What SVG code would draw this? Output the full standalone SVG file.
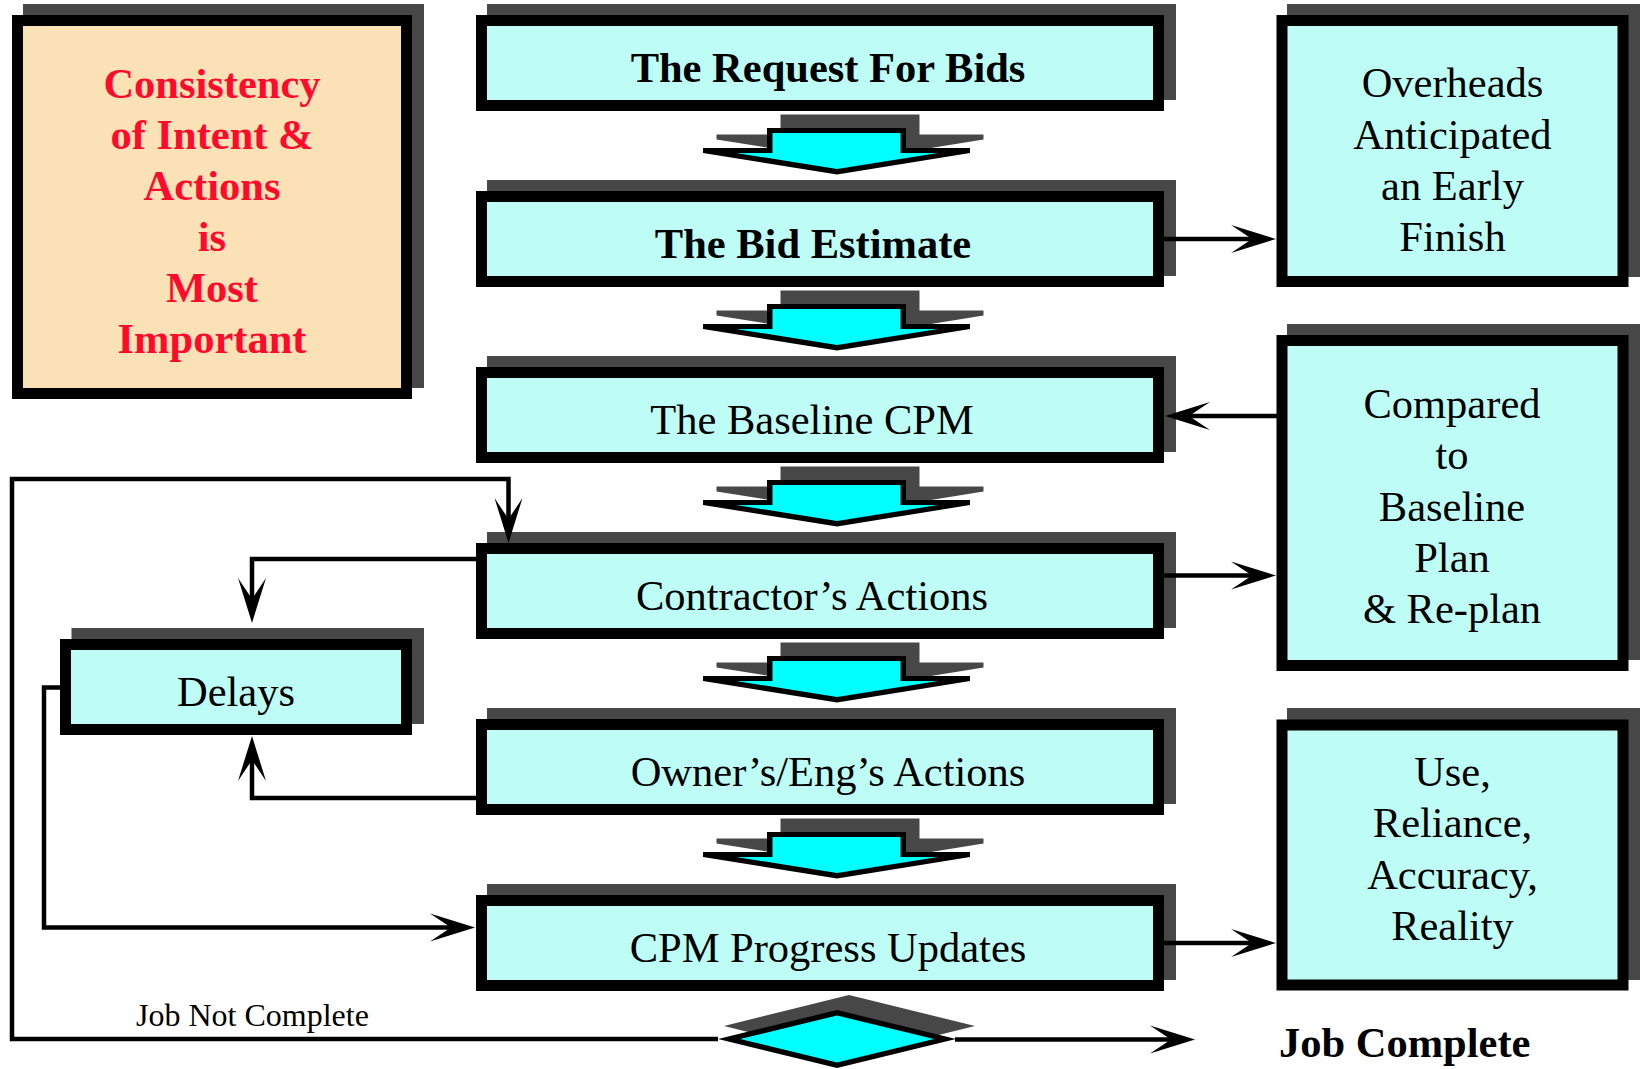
<svg xmlns="http://www.w3.org/2000/svg" xmlns:xlink="http://www.w3.org/1999/xlink" width="1641" height="1069" viewBox="0 0 1641 1069">
  <style>
    .shadow { fill: #474747; }
    .box { fill: #BEFDF5; stroke: #000; stroke-width: 11; }
    .note { fill: #FBE1B6; stroke: #000; stroke-width: 11; }
    .t { font-family: "Liberation Serif", "Times New Roman", serif; font-size: 42.5px; fill: #000; text-anchor: middle; }
    .b { font-weight: bold; }
    .red { fill: #FF0A2A; font-weight: bold; }
    .small { font-family: "Liberation Serif", "Times New Roman", serif; font-size: 32px; fill: #000; }
    .link { fill: none; stroke: #000; stroke-width: 4.5; stroke-linejoin: miter; marker-end: url(#head); }
  </style>
  <defs>
    <!-- swept-back arrowhead; tip sits 20px beyond the path end -->
    <marker id="head" markerUnits="userSpaceOnUse" orient="auto" viewBox="-26 -15 47 30" refX="0" refY="0" markerWidth="47" markerHeight="30" overflow="visible">
      <path d="M20,0 L-25,-14 L-4,0 L-25,14 Z" fill="#000"/>
    </marker>
    <!-- block arrow between steps, with drop shadow -->
    <g id="stepArrow">
      <path class="shadow" d="M780.5,114.5 H919.5 V134.5 H983.5 V139.5 L850.5,161 L716.5,139.5 V134.5 H780.5 Z"/>
      <path fill="#000" d="M767,128 H906 V148 H970 V153 L837,174.5 L703,153 V148 H767 Z"/>
      <path fill="#00FFFF" d="M772.5,133 H900.5 V153 H938 L837,169 L736,153 H772.5 Z"/>
    </g>
  </defs>

  <!-- step arrows -->
  <g id="step-arrows">
    <use xlink:href="#stepArrow"/>
    <use xlink:href="#stepArrow" transform="translate(0,176)"/>
    <use xlink:href="#stepArrow" transform="translate(0,352)"/>
    <use xlink:href="#stepArrow" transform="translate(0,528)"/>
    <use xlink:href="#stepArrow" transform="translate(0,704)"/>
  </g>

  <!-- left note -->
  <g id="note-consistency">
    <rect class="shadow" x="23" y="4" width="401" height="384"/>
    <rect class="note" x="17.5" y="20.5" width="389" height="373"/>
    <text class="t red" x="212" y="98">Consistency</text>
    <text class="t red" x="212" y="149">of Intent &amp;</text>
    <text class="t red" x="212" y="200">Actions</text>
    <text class="t red" x="212" y="251">is</text>
    <text class="t red" x="212" y="302">Most</text>
    <text class="t red" x="212" y="353">Important</text>
  </g>

  <!-- main sequence -->
  <g id="node-request">
    <rect class="shadow" x="487" y="4" width="689" height="96"/>
    <rect class="box" x="481.5" y="20.5" width="677" height="85"/>
    <text class="t b" x="828" y="81.5">The Request For Bids</text>
  </g>
  <g id="node-bid">
    <rect class="shadow" x="487" y="180" width="689" height="96"/>
    <rect class="box" x="481.5" y="196.5" width="677" height="85"/>
    <text class="t b" x="813" y="257.5">The Bid Estimate</text>
  </g>
  <g id="node-baseline">
    <rect class="shadow" x="487" y="356" width="689" height="96"/>
    <rect class="box" x="481.5" y="372.5" width="677" height="85"/>
    <text class="t" x="812" y="433.5">The Baseline CPM</text>
  </g>
  <g id="node-contractor">
    <rect class="shadow" x="487" y="532" width="689" height="96"/>
    <rect class="box" x="481.5" y="548.5" width="677" height="85"/>
    <text class="t" x="812" y="609.5">Contractor’s Actions</text>
  </g>
  <g id="node-owner">
    <rect class="shadow" x="487" y="708" width="689" height="96"/>
    <rect class="box" x="481.5" y="724.5" width="677" height="85"/>
    <text class="t" x="828" y="785.5">Owner’s/Eng’s Actions</text>
  </g>
  <g id="node-updates">
    <rect class="shadow" x="487" y="884" width="689" height="96"/>
    <rect class="box" x="481.5" y="900.5" width="677" height="85"/>
    <text class="t" x="828" y="961.5">CPM Progress Updates</text>
  </g>

  <!-- delays -->
  <g id="node-delays">
    <rect class="shadow" x="71.5" y="628" width="352.5" height="96"/>
    <rect class="box" x="65.5" y="644.5" width="341" height="85"/>
    <text class="t" x="236" y="705.5">Delays</text>
  </g>

  <!-- right-hand notes -->
  <g id="node-overheads">
    <rect class="shadow" x="1287" y="4" width="353" height="273"/>
    <rect class="box" x="1282" y="20.5" width="341" height="261"/>
    <text class="t" x="1452.5" y="97">Overheads</text>
    <text class="t" x="1452.5" y="148.5">Anticipated</text>
    <text class="t" x="1452.5" y="200">an Early</text>
    <text class="t" x="1452.5" y="251">Finish</text>
  </g>
  <g id="node-compared">
    <rect class="shadow" x="1287" y="324" width="353" height="336"/>
    <rect class="box" x="1282" y="340.5" width="341" height="325"/>
    <text class="t" x="1452" y="418">Compared</text>
    <text class="t" x="1452" y="469">to</text>
    <text class="t" x="1452" y="520.5">Baseline</text>
    <text class="t" x="1452" y="571.5">Plan</text>
    <text class="t" x="1452" y="623">&amp; Re-plan</text>
  </g>
  <g id="node-use">
    <rect class="shadow" x="1287" y="708" width="353" height="272"/>
    <rect class="box" x="1282" y="725" width="341" height="260"/>
    <text class="t" x="1452.5" y="786">Use,</text>
    <text class="t" x="1452.5" y="837">Reliance,</text>
    <text class="t" x="1452.5" y="888.5">Accuracy,</text>
    <text class="t" x="1452.5" y="939.5">Reality</text>
  </g>

  <!-- completion decision -->
  <g id="node-decision">
    <polygon class="shadow" points="724,1026 849,995 975,1026 849,1057"/>
    <polygon fill="#000" points="718,1039 837,1010 956,1039 837,1068"/>
    <polygon fill="#00FFFF" points="740,1039 837,1015.5 934,1039 837,1062.5"/>
  </g>

  <!-- connectors, drawn over the box shadows -->
  <g id="connectors">
    <path class="link" d="M1164,239 H1256"/>
    <path class="link" d="M1277,416 H1185"/>
    <path class="link" d="M1164,575.5 H1256"/>
    <path class="link" d="M1164,943 H1256"/>
    <path class="link" d="M476,559 H252 V603"/>
    <path class="link" d="M476,798 H252 V756"/>
    <path class="link" d="M60,687.5 H44 V927.5 H455"/>
    <path class="link" d="M718,1039 H12 V479 H508.5 V523"/>
    <path class="link" d="M955,1039.5 H1175"/>
  </g>

  <!-- branch labels -->
  <g id="labels">
    <text class="small" x="136" y="1025.5">Job Not Complete</text>
    <text class="t b" x="1279" y="1057" style="text-anchor:start">Job Complete</text>
  </g>
</svg>
